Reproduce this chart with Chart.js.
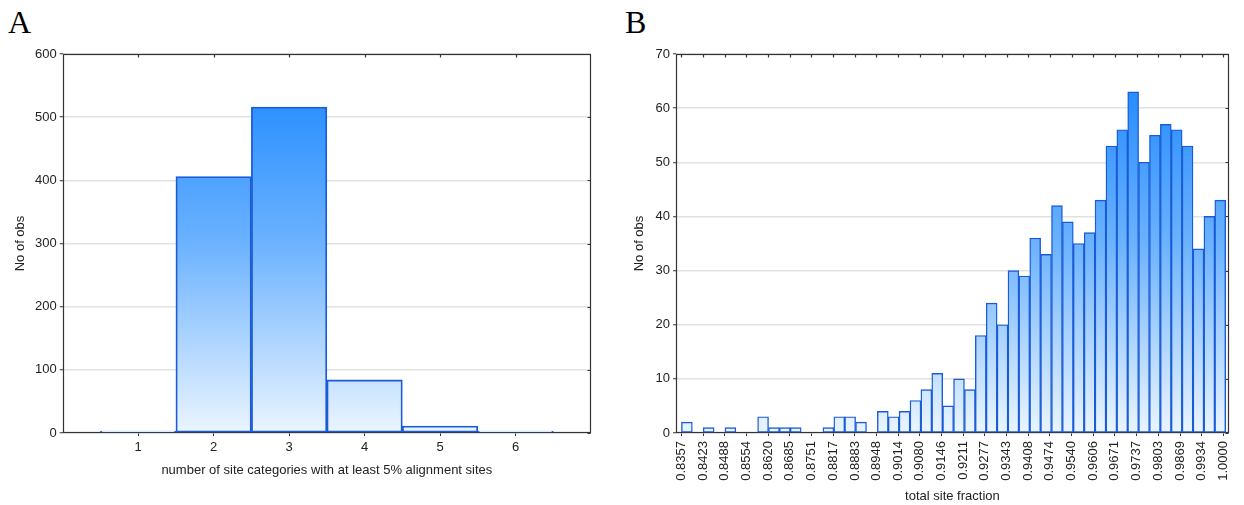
<!DOCTYPE html>
<html>
<head>
<meta charset="utf-8">
<script src="https://cdn.jsdelivr.net/npm/chart.js@4"></script>
<style>
  html, body { margin: 0; padding: 0; background: #fff; }
  #page { position: relative; width: 1244px; height: 505px; overflow: hidden; }
  canvas { position: absolute; top: 0; }
  #chartA { left: 0; }
  #chartB { left: 620px; }
  .panel-tag { position: absolute; top: 6px; font: 32px/32px "Liberation Serif", "Times New Roman", serif; color: #000; }
</style>
</head>
<body>
<div id="page">
  <div class="panel-tag" style="left:8px">A</div>
  <div class="panel-tag" style="left:625px">B</div>
  <canvas id="chartA" width="620" height="505"></canvas>
  <canvas id="chartB" width="624" height="505"></canvas>
</div>
<script>
// Panel A: number of site categories
const categoriesA = [1, 2, 3, 4, 5, 6];
const countsA = [3, 406, 516, 84, 11, 3];
const yTicksA = [0, 100, 200, 300, 400, 500, 600];

// Panel B: total site fraction histogram (50 bins, labels on every other bin edge)
const xTickLabelsB = ['0.8357', '0.8423', '0.8488', '0.8554', '0.8620', '0.8685', '0.8751',
  '0.8817', '0.8883', '0.8948', '0.9014', '0.9080', '0.9146', '0.9211', '0.9277', '0.9343',
  '0.9408', '0.9474', '0.9540', '0.9606', '0.9671', '0.9737', '0.9803', '0.9869', '0.9934', '1.0000'];
const countsB = [2, 0, 1, 0, 1, 0, 0, 3, 1, 1, 1, 0, 0, 1, 3, 3, 2, 0, 4, 3, 4, 6, 8, 11, 5,
  10, 8, 18, 24, 20, 30, 29, 36, 33, 42, 39, 35, 37, 43, 53, 56, 63, 50, 55, 57, 56, 53, 34, 40, 43];
const yTicksB = [0, 10, 20, 30, 40, 50, 60, 70];

const textColor = '#222';
const font = { family: '"Liberation Sans", Arial, sans-serif', size: 13 };

function barFill(ctx) {
  const area = ctx.chart.chartArea;
  if (!area) return '#8fc3ff';
  const g = ctx.chart.ctx.createLinearGradient(0, area.bottom, 0, area.top);
  g.addColorStop(0, '#ebf5ff');
  g.addColorStop(0.5, '#6cb2ff');
  g.addColorStop(1, '#1684ff');
  return g;
}

// box around the plot plus small inner ticks on top and right (drawn under the bars)
const framePlugin = {
  id: 'frame',
  beforeDatasetsDraw(chart) {
    const { ctx, chartArea: a, scales } = chart;
    const l = Math.round(a.left) + 0.5, r = Math.round(a.right) - 0.5;
    const t = Math.round(a.top) + 0.5, b = Math.round(a.bottom) - 0.5;
    ctx.save();
    ctx.strokeStyle = '#333';
    ctx.lineWidth = 1.2;
    ctx.strokeRect(l, t, r - l, b - t);
    ctx.beginPath();
    scales.x.ticks.forEach(tk => {
      const px = Math.round(scales.x.getPixelForValue(tk.value)) + 0.5;
      ctx.moveTo(px, t); ctx.lineTo(px, t + 3);
    });
    scales.y.ticks.forEach(tk => {
      const py = Math.round(scales.y.getPixelForValue(tk.value)) + 0.5;
      ctx.moveTo(r, py); ctx.lineTo(r - 3, py);
    });
    ctx.stroke();
    ctx.restore();
  }
};

function yAxis(ticks, width, titlePad) {
  return {
    type: 'linear',
    min: ticks[0],
    max: ticks[ticks.length - 1],
    afterFit: (s) => { s.width = width; },
    afterBuildTicks: (s) => { s.ticks = ticks.map(v => ({ value: v })); },
    grid: { color: '#e2e2e2', lineWidth: 1.5, tickColor: '#333', tickLength: 3, tickWidth: 1 },
    border: { display: false },
    ticks: { color: textColor, font, padding: 3 },
    title: { display: true, text: 'No of obs', color: textColor, font, padding: { top: titlePad, bottom: 0 } }
  };
}

// ---------- A ----------
new Chart(document.getElementById('chartA'), {
  type: 'bar',
  data: {
    datasets: [{
      data: categoriesA.map((c, i) => ({ x: c, y: countsA[i] })),
      backgroundColor: barFill,
      borderColor: '#1a5bd8',
      borderWidth: 1.8,
      borderSkipped: false,
      barPercentage: 1,
      categoryPercentage: 1
    }]
  },
  options: {
    responsive: false,
    animation: false,
    layout: { padding: { top: 54, right: 29, left: 0, bottom: 0 } },
    plugins: { legend: { display: false }, tooltip: { enabled: false } },
    scales: {
      x: {
        type: 'linear',
        min: 0,
        max: 7,
        offset: false,
        afterFit: (s) => { s.height = 72; },
        afterBuildTicks: (s) => { s.ticks = categoriesA.map(v => ({ value: v })); },
        grid: { drawOnChartArea: false, offset: false, tickColor: '#333', tickLength: 3 },
        border: { display: false },
        ticks: { color: textColor, font, padding: 4, maxRotation: 0 },
        title: {
          display: true,
          text: 'number of site categories with at least 5% alignment sites',
          color: textColor, font, padding: { top: 0, bottom: 27 }
        }
      },
      y: yAxis(yTicksA, 62.7, 13)
    }
  },
  plugins: [framePlugin]
});

// ---------- B ----------
const tickValsB = xTickLabelsB.map(Number);
const binWidthB = (tickValsB[1] - tickValsB[0]) / 2;
// bin centres: each tick interval holds two bins
const binCentresB = countsB.map((_, i) => tickValsB[0] + binWidthB * (i + 0.5));

new Chart(document.getElementById('chartB'), {
  type: 'bar',
  data: {
    datasets: [{
      data: binCentresB.map((x, i) => ({ x, y: countsB[i] })),
      backgroundColor: barFill,
      borderColor: '#1a5bd8',
      borderWidth: 1.4,
      borderSkipped: false,
      barPercentage: 1,
      categoryPercentage: 1
    }]
  },
  options: {
    responsive: false,
    animation: false,
    layout: { padding: { top: 54, right: 4, left: 0, bottom: 0 } },
    plugins: { legend: { display: false }, tooltip: { enabled: false } },
    scales: {
      x: {
        type: 'linear',
        min: tickValsB[0] - binWidthB / 2,
        max: tickValsB[tickValsB.length - 1] + binWidthB / 2,
        offset: false,
        afterFit: (s) => { s.height = 72; },
        afterBuildTicks: (s) => { s.ticks = tickValsB.map(v => ({ value: v })); },
        grid: { drawOnChartArea: false, offset: false, tickColor: '#333', tickLength: 3 },
        border: { display: false },
        ticks: {
          color: textColor, font, padding: 5, autoSkip: false,
          minRotation: 90, maxRotation: 90,
          callback: (v, i) => xTickLabelsB[i]
        },
        title: {
          display: true, text: 'total site fraction',
          color: textColor, font, padding: { top: 0, bottom: 1 }
        }
      },
      y: yAxis(yTicksB, 56, 12)
    }
  },
  plugins: [framePlugin]
});
</script>
</body>
</html>
